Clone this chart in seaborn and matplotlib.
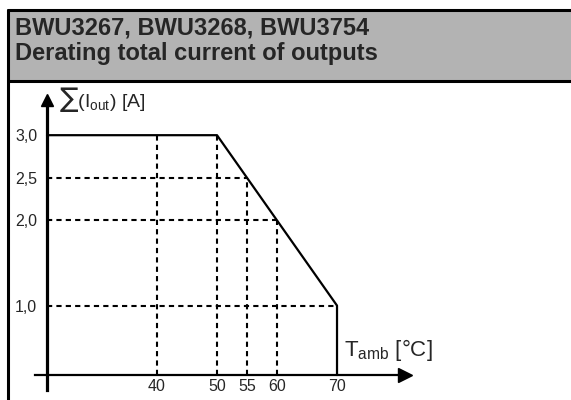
import matplotlib
matplotlib.use("Agg")
import matplotlib.pyplot as plt
from matplotlib.patches import Rectangle
from matplotlib.lines import Line2D
import seaborn as sns

# derating curve: full current up to 50 degC, linear down to 1.0 A at 70 degC
curve_T = [50, 70]
curve_I = [3.0, 1.0]

# helper lines to the marked operating points
ref_T = [40, 50, 55, 60]
ref_I = [3.0, 3.0, 2.5, 2.0]
hline_I = [2.5, 2.0, 1.0]
hline_T = [55, 60, 70]

xtick_vals = [40, 50, 55, 60, 70]
xtick_labels = ["40", "50", "55", "60", "70"]
ytick_vals = [1.0, 2.0, 2.5, 3.0]
ytick_labels = ["1,0", "2,0", "2,5", "3,0"]

title_lines = ["BWU3267, BWU3268, BWU3754", "Derating total current of outputs"]

# where the drawn axes cross
T0, I0 = 21.67, 0.185

sns.set_style("white")
plt.rcParams["font.family"] = ["Liberation Sans", "DejaVu Sans"]
plt.rcParams["mathtext.default"] = "regular"

W, H = 571, 400
fig = plt.figure(figsize=(W / 100, H / 100), dpi=100)


def fx(px):
    return px / W


def fy(py):
    return 1 - py / H


# header box
fig.patches.append(Rectangle((fx(7.5), fy(81)), 1, fy(10) - fy(81), transform=fig.transFigure,
                             facecolor="#b3b3b3", edgecolor="none", zorder=0))
for line in [Line2D([fx(7.5), 1], [fy(10), fy(10)]),
             Line2D([fx(7.5), 1], [fy(81), fy(81)]),
             Line2D([fx(7.5), fx(7.5)], [fy(10), 0])]:
    line.set_transform(fig.transFigure)
    line.set_color("black")
    line.set_linewidth(2.2)
    fig.lines.append(line)

fig.text(fx(15), fy(34), title_lines[0], fontsize=17, fontweight="bold", va="baseline")
fig.text(fx(15), fy(60), title_lines[1], fontsize=17, fontweight="bold", va="baseline")

ax = fig.add_axes([fx(35), fy(390), fx(405) - fx(35), fy(100) - fy(390)])
ax.set_xlim(19.667, 81.33)
ax.set_ylim(0.0094, 3.413)
ax.patch.set_alpha(0)

# main curve
T_full = [T0] + curve_T + [curve_T[-1]]
I_full = [curve_I[0]] + curve_I + [I0]
sns.lineplot(x=T_full, y=I_full, sort=False, estimator=None, color="black", lw=1.6, ax=ax, zorder=3)

dash = (0, (2.5, 2))
ax.vlines(ref_T, I0, ref_I, color="black", lw=1.5, linestyles=[dash])
ax.hlines(hline_I, T0, hline_T, color="black", lw=1.5, linestyles=[dash])

# axes with arrows
for s in ["top", "right"]:
    ax.spines[s].set_visible(False)
ax.spines["left"].set_position(("data", T0))
ax.spines["bottom"].set_position(("data", I0))
ax.spines["left"].set_linewidth(2.3)
ax.spines["bottom"].set_linewidth(1.6)
ax.spines["left"].set_color("black")
ax.spines["bottom"].set_color("black")
ax.plot(1, I0, ">", color="black", ms=10, transform=ax.get_yaxis_transform(), clip_on=False)
ax.plot(T0, 1, "^", color="black", ms=8, transform=ax.get_xaxis_transform(), clip_on=False)

ax.set_xticks(xtick_vals, xtick_labels, fontsize=11.5)
ax.set_yticks(ytick_vals, ytick_labels, fontsize=11.5)
ax.tick_params(axis="x", length=0, pad=3)
ax.tick_params(axis="y", length=0, pad=7)

fig.text(fx(59), fy(107), r"∑(I$_{out}$) [A]", fontsize=14, va="baseline")
fig.text(fx(344), fy(356), r"T$_{amb}$ [°C]", fontsize=16, va="baseline")

fig.savefig("out.png", dpi=100)
